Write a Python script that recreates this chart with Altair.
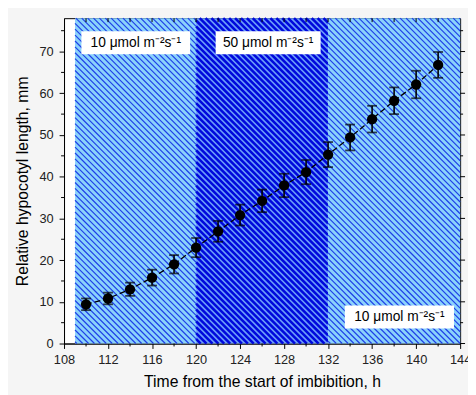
import altair as alt
import pandas as pd

# ---- data ----
hours = [110, 112, 114, 116, 118, 120, 122, 124, 126, 128, 130, 132, 134, 136, 138, 140, 142]
length = [9.4, 10.8, 13.0, 15.8, 19.0, 23.0, 26.9, 30.8, 34.2, 37.9, 41.1, 45.3, 49.4, 53.8, 58.2, 62.1, 66.8]
err = [1.4, 1.4, 1.6, 1.9, 2.2, 2.3, 2.5, 2.5, 2.7, 2.8, 2.9, 3.0, 3.1, 3.2, 3.2, 3.3, 3.1]

region_start = [109, 120, 132]
region_end = [120, 132, 144]

x_major = [108, 112, 116, 120, 124, 128, 132, 136, 140, 144]
x_minor = [110, 114, 118, 122, 126, 130, 134, 138, 142]
x_top = [110, 112, 114, 116, 118, 120, 122, 124, 126, 128, 130, 132, 134, 136, 138, 140, 142]
y_major = [0, 10, 20, 30, 40, 50, 60, 70]
y_minor = [5, 15, 25, 35, 45, 55, 65, 75]

labels = ["10 \u03bcmol m\u207b\u00b2s\u207b\u00b9", "50 \u03bcmol m\u207b\u00b2s\u207b\u00b9", "10 \u03bcmol m\u207b\u00b2s\u207b\u00b9"]
label_x0 = [109.58, 121.78, 133.52]
label_x1 = [119.46, 131.32, 143.44]
label_y0 = [69.36, 69.36, 3.61]
label_y1 = [74.88, 74.88, 9.12]

# ---- layout / style ----
W, H = 403, 331
XDOM = [108, 144]
YDOM = [0, 78]
FONT = "Liberation Sans"
HATCH_STEP = 6.0  # horizontal spacing of the hatch pattern, px

xs = alt.Scale(domain=XDOM, nice=False, zero=False)
ys = alt.Scale(domain=YDOM, nice=False, zero=True)

xaxis = alt.Axis(values=x_major, title="Time from the start of imbibition, h", labelFlush=False,
                 labelPadding=5, titlePadding=8, tickSize=5)
yaxis = alt.Axis(values=y_major, title="Relative hypocotyl length, mm", labelFlush=False,
                 labelPadding=6, titlePadding=9, tickSize=5)


def X(field):
    return alt.X(field, scale=xs, axis=xaxis)


def Y(field):
    return alt.Y(field, scale=ys, axis=yaxis)


def to_px(h):
    return (h - XDOM[0]) / (XDOM[1] - XDOM[0]) * W


def to_h(p):
    return XDOM[0] + p / W * (XDOM[1] - XDOM[0])


def to_v(py):
    return (H - py) / H * (YDOM[1] - YDOM[0])


def hatch(h0, h1):
    """'\\' hatch segments clipped to a region (pattern fill)."""
    xl, xr = to_px(h0), to_px(h1)
    rows = []
    k = int((xl - H) // HATCH_STEP)
    while k * HATCH_STEP <= xr:
        c = k * HATCH_STEP
        ya, yb = max(0.0, xl - c), min(float(H), xr - c)
        if yb > ya:
            rows.append({"a": to_h(c + ya), "b": to_v(ya), "a2": to_h(c + yb), "b2": to_v(yb)})
        k += 1
    return pd.DataFrame(rows)


LIGHT_BG, LIGHT_LINE, LIGHT_W = "#8ad2fb", "#1f3fe8", 1.2
DARK_BG, DARK_LINE, DARK_W = "#6c9ef9", "#0008dc", 2.6
styles = [(LIGHT_BG, LIGHT_LINE, LIGHT_W), (DARK_BG, DARK_LINE, DARK_W), (LIGHT_BG, LIGHT_LINE, LIGHT_W)]

layers = []
for i in range(3):
    bg, lc, lw = styles[i]
    rdf = pd.DataFrame({"start": [region_start[i]], "end": [region_end[i]]})
    layers.append(alt.Chart(rdf).mark_rect(color=bg).encode(
        x=X("start:Q"), x2="end:Q", y=alt.value(0), y2=alt.value(H)))
    layers.append(alt.Chart(hatch(region_start[i], region_end[i])).mark_rule(
        color=lc, strokeWidth=lw).encode(
        x=X("a:Q"), y=Y("b:Q"), x2="a2:Q", y2="b2:Q"))

# ---- minor / frame ticks ----
bx = pd.DataFrame({"v": x_minor})
layers.append(alt.Chart(bx).mark_rule(color="black", strokeWidth=1).encode(
    x=X("v:Q"), y=alt.value(H), y2=alt.value(H + 3)))
tx = pd.DataFrame({"v": x_top})
layers.append(alt.Chart(tx).mark_rule(color="black", strokeWidth=1).encode(
    x=X("v:Q"), y=alt.value(0), y2=alt.value(4)))
ly = pd.DataFrame({"v": y_minor})
layers.append(alt.Chart(ly).mark_rule(color="black", strokeWidth=1).encode(
    y=Y("v:Q"), x=alt.value(-3), x2=alt.value(0)))
layers.append(alt.Chart(ly).mark_rule(color="black", strokeWidth=1).encode(
    y=Y("v:Q"), x=alt.value(W), x2=alt.value(W + 3)))
ry = pd.DataFrame({"v": y_major})
layers.append(alt.Chart(ry).mark_rule(color="black", strokeWidth=1).encode(
    y=Y("v:Q"), x=alt.value(W), x2=alt.value(W + 5)))

# ---- annotation boxes ----
adf = pd.DataFrame({"label": labels, "x0": label_x0, "x1": label_x1, "y0": label_y0, "y1": label_y1})
adf["xc"] = (adf["x0"] + adf["x1"]) / 2
adf["yc"] = (adf["y0"] + adf["y1"]) / 2
layers.append(alt.Chart(adf).mark_rect(color="white").encode(
    x=X("x0:Q"), x2="x1:Q", y=Y("y0:Q"), y2="y1:Q"))
layers.append(alt.Chart(adf).mark_text(font=FONT, fontSize=14, color="black").encode(
    x=X("xc:Q"), y=Y("yc:Q"), text="label:N"))

# ---- measured data ----
df = pd.DataFrame({"h": hours, "len": length, "err": err})
df["lo"] = df["len"] - df["err"]
df["hi"] = df["len"] + df["err"]

layers.append(alt.Chart(df).mark_line(color="black", strokeWidth=1.3, strokeDash=[6, 3]).encode(
    x=X("h:Q"), y=Y("len:Q")))
layers.append(alt.Chart(df).mark_rule(color="black", strokeWidth=1.6).encode(
    x=X("h:Q"), y=Y("lo:Q"), y2="hi:Q"))
for col in ["lo", "hi"]:
    layers.append(alt.Chart(df).mark_tick(color="black", orient="horizontal", size=10, thickness=1.8).encode(
        x=X("h:Q"), y=Y(f"{col}:Q")))
layers.append(alt.Chart(df).mark_circle(color="black", size=110, opacity=1).encode(
    x=X("h:Q"), y=Y("len:Q")))

chart = alt.layer(*layers).properties(
    width=W, height=H,
    autosize=alt.AutoSizeParams(type="none"),
    padding={"left": 57, "top": 7, "right": 8, "bottom": 49},
    background="#f5f5f5",
).configure_view(
    stroke="black", strokeWidth=1, fill="white"
).configure_axis(
    grid=False, domainColor="black", tickColor="black", domainWidth=1, tickWidth=1,
    labelColor="#222222", titleColor="black", labelFont=FONT, titleFont=FONT,
    labelFontSize=13, titleFontSize=16, titleFontWeight="normal",
)

chart.save("out.html", embed_options={"renderer": "svg", "actions": False})
